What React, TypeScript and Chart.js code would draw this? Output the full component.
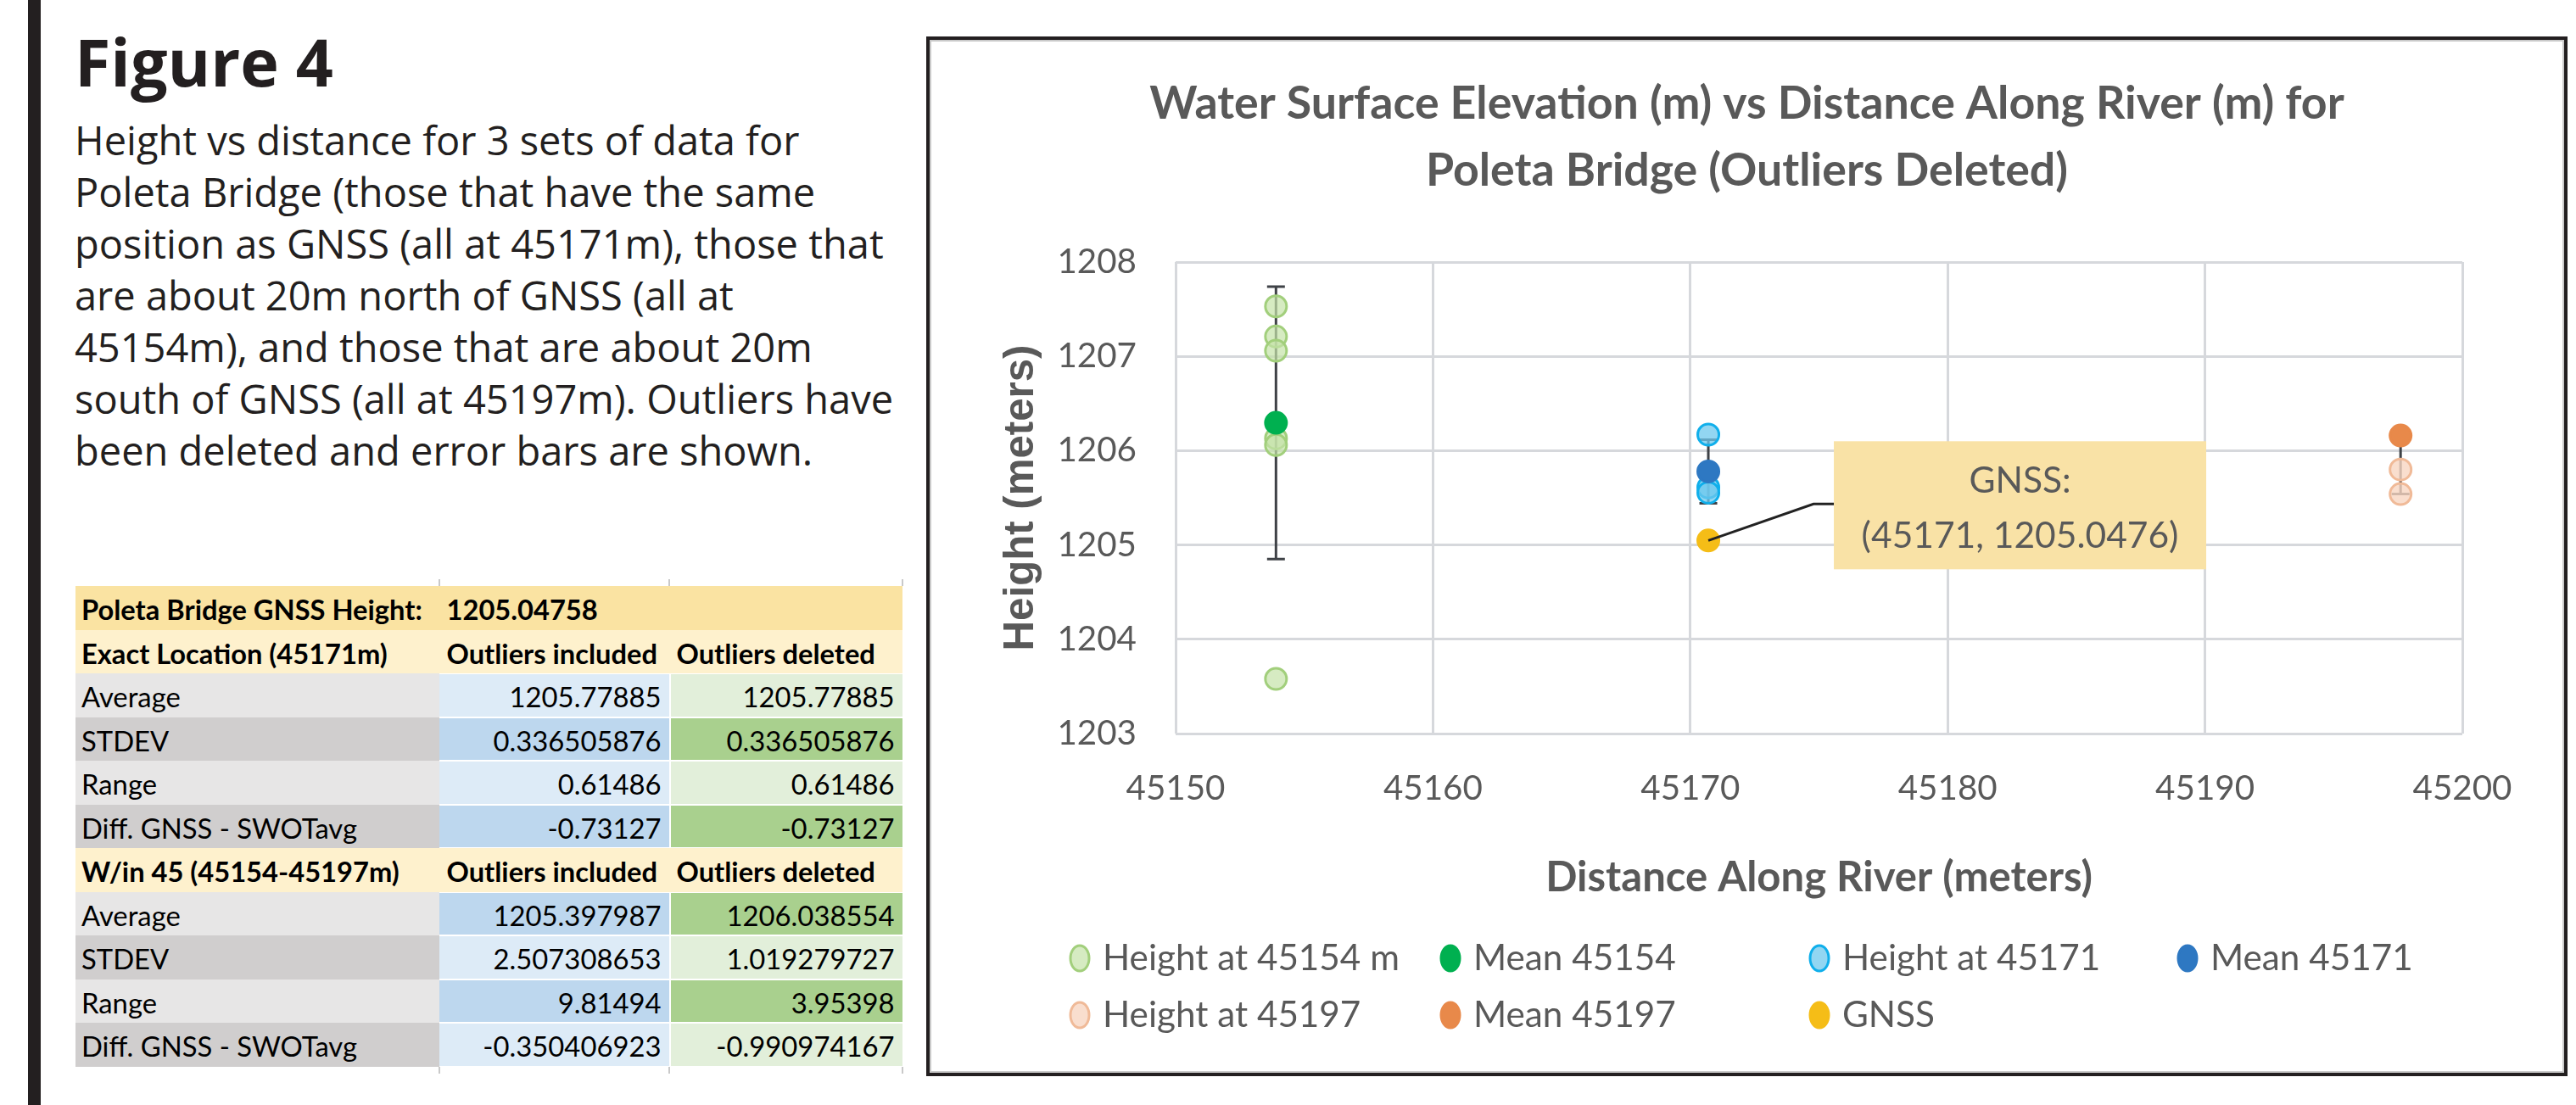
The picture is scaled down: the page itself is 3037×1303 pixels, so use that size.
import React, { useEffect, useRef } from 'react';
import { Chart, registerables } from 'chart.js';

Chart.register(...registerables);

// ---------------- chart data ----------------
const seriesNames = ['Height at 45154 m', 'Mean 45154', 'Height at 45171', 'Mean 45171', 'Height at 45197', 'Mean 45197', 'GNSS'];
const distance154 = 45153.9;
const heights154 = [1207.53, 1207.21, 1207.06, 1206.13, 1206.06, 1203.58];
const mean154 = [1206.295];
const distance171 = 45170.7;
const heights171 = [1206.17, 1205.61, 1205.555];
const mean171 = [1205.779];
const distance197 = 45197.6;
const heights197 = [1205.8, 1205.54];
const mean197 = [1206.16];
const gnssDistance = 45170.7;
const gnssHeight = [1205.0476];
const errorX = [45153.9, 45170.7, 45197.6];
const errorCenter = [1206.295, 1205.779, 1206.16];
const errorPlus = [1.445, 0.3365, 0];
const errorMinus = [1.445, 0.3365, 0.62];
const xMin = 45150, xMax = 45200, xStep = 10;
const yMin = 1203, yMax = 1208, yStep = 1;
const titleLines = ['Water Surface Elevation (m) vs Distance Along River (m) for', 'Poleta Bridge (Outliers Deleted)'];
const xAxisTitle = 'Distance Along River (meters)';
const yAxisTitle = 'Height (meters)';
const calloutLines = ['GNSS:', '(45171, 1205.0476)'];

// ---------------- text data ----------------
const figureTitle = 'Figure 4';
const paragraphLines = [
  'Height vs distance for 3 sets of data for',
  'Poleta Bridge (those that have the same',
  'position as GNSS (all at 45171m), those that',
  'are about 20m north of GNSS (all at',
  '45154m), and those that are about 20m',
  'south of GNSS (all at 45197m). Outliers have',
  'been deleted and error bars are shown.',
];
const tableLabels = ['Poleta Bridge GNSS Height:', 'Exact Location (45171m)', 'Average', 'STDEV', 'Range', 'Diff. GNSS - SWOTavg', 'W/in 45 (45154-45197m)', 'Average', 'STDEV', 'Range', 'Diff. GNSS - SWOTavg'];
const tableIncluded = ['1205.04758', 'Outliers included', '1205.77885', '0.336505876', '0.61486', '-0.73127', 'Outliers included', '1205.397987', '2.507308653', '9.81494', '-0.350406923'];
const tableDeleted = ['', 'Outliers deleted', '1205.77885', '0.336505876', '0.61486', '-0.73127', 'Outliers deleted', '1206.038554', '1.019279727', '3.95398', '-0.990974167'];

// ---------------- fonts & sizing ----------------
const CAL = 'Lato, "Open Sans", sans-serif';
const MYR = '"Open Sans", Lato, sans-serif';
const ARL = '"Liberation Sans", Arial, sans-serif';
const measureCtx = document.createElement('canvas').getContext('2d') as CanvasRenderingContext2D;
function fit(text: string, family: string, weight: string, target: number) {
  measureCtx.font = `${weight} 100px ${family}`;
  const w = measureCtx.measureText(text).width;
  return (100 * target) / w;
}
const figSize = fit(figureTitle, MYR, 'bold', 305);
const paraSize = (fit(paragraphLines[0], MYR, 'normal', 852) + fit(paragraphLines[5], MYR, 'normal', 968)) / 2;
const tableBold = fit(tableLabels[0], CAL, 'bold', 402);
const tableReg = fit(tableLabels[5], CAL, 'normal', 325);
const tickSize = fit('45200', CAL, 'normal', 117);
const titleSize = (fit(titleLines[0], CAL, 'bold', 1413) + fit(titleLines[1], CAL, 'bold', 755)) / 2;
const xTitleSize = fit(xAxisTitle, CAL, 'bold', 645);
const yTitleSize = fit(yAxisTitle, ARL, 'bold', 361);
const legendSize = fit(seriesNames[0], CAL, 'normal', 350);
const calloutSize = fit(calloutLines[1], CAL, 'normal', 374);

const GRAY = '#595959';
const fills = ['rgba(197,226,168,0.7)', '#00B050', 'rgba(110,200,238,0.75)', '#2E78C2', 'rgba(248,214,194,0.8)', '#E8894A', '#F5BD17'];
const borders = ['#A2CF7C', '#00B050', '#10AFEB', '#2E78C2', '#F0BA98', '#E8894A', '#F5BD17'];

const errorBarPlugin = {
  id: 'errorBars',
  beforeDatasetsDraw(chart: any) {
    const { ctx, scales } = chart;
    const x = scales.x, y = scales.y;
    ctx.save();
    ctx.strokeStyle = '#3F4247';
    ctx.lineWidth = 3;
    errorX.forEach((xv, i) => {
      const px = x.getPixelForValue(xv);
      const top = y.getPixelForValue(errorCenter[i] + errorPlus[i]);
      const bot = y.getPixelForValue(errorCenter[i] - errorMinus[i]);
      ctx.beginPath();
      ctx.moveTo(px, top); ctx.lineTo(px, bot);
      ctx.moveTo(px - 10.5, top); ctx.lineTo(px + 10.5, top);
      ctx.moveTo(px - 10.5, bot); ctx.lineTo(px + 10.5, bot);
      ctx.stroke();
    });
    ctx.restore();
  },
};

const calloutPlugin = {
  id: 'callout',
  afterDatasetsDraw(chart: any) {
    const { ctx } = chart;
    const pt = chart.getDatasetMeta(6).data[0];
    if (!pt) return;
    const px = pt.x, py = pt.y;
    const bx = px + 148, by = py - 117, bw = 439, bh = 151;
    ctx.save();
    ctx.fillStyle = '#F9E2A6';
    ctx.fillRect(bx, by, bw, bh);
    ctx.strokeStyle = '#222222';
    ctx.lineWidth = 3;
    ctx.beginPath();
    ctx.moveTo(px, py);
    ctx.lineTo(px + 124, py - 43);
    ctx.lineTo(bx, py - 43);
    ctx.stroke();
    ctx.fillStyle = GRAY;
    ctx.font = `normal ${calloutSize}px ${CAL}`;
    ctx.textAlign = 'center';
    ctx.textBaseline = 'middle';
    ctx.fillText(calloutLines[0], bx + bw / 2, by + 47);
    ctx.fillText(calloutLines[1], bx + bw / 2, by + 112);
    ctx.restore();
  },
};

const legendRows = [[0, 1, 2, 3], [4, 5, 6]];
const legendPlugin = {
  id: 'gridLegend',
  afterDraw(chart: any) {
    const { ctx } = chart;
    const colX = [177, 614, 1049, 1483];
    const rowY = [1083, 1150];
    ctx.save();
    ctx.font = `normal ${legendSize}px ${CAL}`;
    ctx.textBaseline = 'middle';
    ctx.textAlign = 'left';
    legendRows.forEach((row, r) => {
      row.forEach((si, c) => {
        const mx = colX[c], my = rowY[r];
        ctx.beginPath();
        ctx.ellipse(mx, my, 11, 15, 0, 0, Math.PI * 2);
        ctx.fillStyle = fills[si];
        ctx.fill();
        ctx.lineWidth = 3;
        ctx.strokeStyle = borders[si];
        ctx.stroke();
        ctx.fillStyle = GRAY;
        ctx.fillText(seriesNames[si], mx + 27, my);
      });
    });
    ctx.restore();
  },
};

function pts(xv: number, ys: number[]) {
  return ys.map((v) => ({ x: xv, y: v }));
}

export default function App() {
  const canvasRef = useRef<HTMLCanvasElement>(null);

  useEffect(() => {
    const dataPoints = [
      pts(distance154, heights154),
      pts(distance154, mean154),
      pts(distance171, heights171),
      pts(distance171, mean171),
      pts(distance197, heights197),
      pts(distance197, mean197),
      pts(gnssDistance, gnssHeight),
    ];
    const datasets = seriesNames.map((name, i) => ({
      label: name,
      data: dataPoints[i],
      backgroundColor: fills[i],
      borderColor: borders[i],
      pointRadius: 12.5,
      pointBorderWidth: 3,
      pointHoverRadius: 12.5,
      showLine: false,
      yAxisID: 'y',
      order: i % 2 === 0 && i !== 6 ? 2 : 1,
    }));
    const chart = new Chart(canvasRef.current as HTMLCanvasElement, {
      type: 'scatter',
      data: { datasets },
      options: {
        responsive: false,
        maintainAspectRatio: false,
        animation: false,
        devicePixelRatio: 1,
        layout: { padding: { left: 0, right: 0, top: 0, bottom: 200 } },
        plugins: {
          legend: { display: false },
          tooltip: { enabled: false },
          title: {
            display: true,
            text: titleLines,
            color: GRAY,
            font: { family: CAL, size: titleSize, weight: 'bold', lineHeight: 79 / titleSize },
            padding: { top: 36.5, bottom: 67.5 },
          },
        },
        scales: {
          x: {
            type: 'linear',
            min: xMin,
            max: xMax,
            ticks: {
              stepSize: xStep,
              color: GRAY,
              font: { family: CAL, size: tickSize },
              padding: 65 - 0.6 * tickSize,
              callback: (v: any) => String(v),
              maxRotation: 0,
            },
            grid: { color: '#D6D8DC', lineWidth: 3, drawTicks: false },
            border: { display: false },
            title: {
              display: true,
              text: xAxisTitle,
              color: GRAY,
              font: { family: CAL, size: xTitleSize, weight: 'bold' },
              padding: { top: 0, bottom: 30 - 0.6 * xTitleSize },
            },
            afterFit: (s: any) => { s.height = 200; },
          },
          y: {
            type: 'linear',
            position: 'left',
            min: yMin,
            max: yMax,
            ticks: {
              stepSize: yStep,
              color: GRAY,
              font: { family: CAL, size: tickSize },
              padding: 46,
              callback: (v: any) => String(v),
            },
            grid: { color: '#D6D8DC', lineWidth: 3, drawTicks: false },
            border: { display: false },
            title: {
              display: true,
              text: yAxisTitle,
              color: GRAY,
              font: { family: ARL, size: yTitleSize, weight: 'bold' },
              padding: { top: 108 - 0.6 * yTitleSize, bottom: 0 },
            },
            afterFit: (s: any) => { s.width = 290; },
          },
          yRightSpace: {
            type: 'linear',
            position: 'right',
            display: true,
            min: yMin,
            max: yMax,
            ticks: { display: false },
            grid: { display: false, drawTicks: false },
            border: { display: false },
            title: { display: false },
            afterFit: (s: any) => { s.width = 120; },
          },
        },
      } as any,
      plugins: [errorBarPlugin, calloutPlugin, legendPlugin],
    });
    return () => chart.destroy();
  }, []);

  // table geometry
  const colEdges = [89, 518, 789, 1064];
  const rowTop = 691;
  const rowH = 51.5;
  const cellColors = (i: number, c: number) => {
    if (i === 0) return '#FAE3A2';
    if (i === 1 || i === 6) return '#FEF1CD';
    const inB = i >= 7;
    const j = inB ? i - 7 : i - 2;
    if (c === 0) return j % 2 === 0 ? '#E7E6E6' : '#D0CECE';
    const strong = inB ? j % 2 === 0 : j % 2 === 1;
    if (c === 1) return strong ? '#BDD7EE' : '#DDEBF7';
    return strong ? '#A9D08E' : '#E2EFDA';
  };

  const cells: any[] = [];
  for (let i = 0; i < tableLabels.length; i++) {
    const top = rowTop + rowH * i;
    const isHead = i === 0 || i === 1 || i === 6;
    const fs = isHead ? tableBold : tableReg;
    const baseTop = top + 41.5 - 0.888 * fs;
    for (let c = 0; c < 3; c++) {
      const left = colEdges[c];
      const width = colEdges[c + 1] - colEdges[c];
      const sep = i >= 2 && i !== 6 && c > 0;
      cells.push(
        <div
          key={`bg${i}-${c}`}
          style={{
            position: 'absolute',
            left: left + (sep && c === 2 ? 2 : 0),
            top: top + (sep ? 1 : 0),
            width: width - (sep && c === 2 ? 2 : 0),
            height: rowH - (sep ? 2 : 0),
            background: cellColors(i, c),
          }}
        />
      );
      const txt = c === 0 ? tableLabels[i] : c === 1 ? tableIncluded[i] : tableDeleted[i];
      if (!txt) continue;
      const leftAlign = c === 0 || isHead;
      cells.push(
        <div
          key={`tx${i}-${c}`}
          style={{
            position: 'absolute',
            left: leftAlign ? left + (c === 0 ? 7 : 8.5) : left,
            top: baseTop,
            width: leftAlign ? undefined : width - 9.5,
            textAlign: leftAlign ? 'left' : 'right',
            whiteSpace: 'nowrap',
            fontFamily: CAL,
            fontWeight: isHead ? 700 : 400,
            fontSize: fs,
            lineHeight: `${fs}px`,
            color: '#000',
          }}
        >
          {txt}
        </div>
      );
    }
  }
  const ticksMarks = [518, 789, 1064].flatMap((x) => [
    <div key={`tm-a${x}`} style={{ position: 'absolute', left: x - 1, top: 683, width: 2, height: 8, background: '#C9C9C9' }} />,
    <div key={`tm-b${x}`} style={{ position: 'absolute', left: x - 1, top: 1258, width: 2, height: 8, background: '#C9C9C9' }} />,
  ]);

  return (
    <div style={{ position: 'absolute', left: 0, top: 0, width: 3037, height: 1303, background: '#fff', overflow: 'hidden' }}>
      <div style={{ position: 'absolute', left: 33, top: 0, width: 15, height: 1303, background: '#231F20' }} />
      <div
        style={{
          position: 'absolute', left: 88, top: 103 - 0.888 * figSize, fontFamily: MYR, fontWeight: 700,
          fontSize: figSize, lineHeight: `${figSize}px`, color: '#231F20', whiteSpace: 'nowrap',
        }}
      >
        {figureTitle}
      </div>
      {paragraphLines.map((line, i) => (
        <div
          key={`p${i}`}
          style={{
            position: 'absolute', left: 88, top: 184 + 61 * i - 0.888 * paraSize, fontFamily: MYR,
            fontSize: paraSize, lineHeight: `${paraSize}px`, color: '#231F20', whiteSpace: 'nowrap',
          }}
        >
          {line}
        </div>
      ))}
      {cells}
      {ticksMarks}
      <div
        style={{
          position: 'absolute', left: 1092, top: 43, width: 1935, height: 1226, boxSizing: 'border-box',
          border: '4px solid #231F20', boxShadow: 'inset 0 0 0 2px #CACACA', background: '#fff',
        }}
      />
      <canvas
        ref={canvasRef}
        width={1927}
        height={1218}
        style={{ position: 'absolute', left: 1096, top: 47, width: 1927, height: 1218 }}
      />
    </div>
  );
}
